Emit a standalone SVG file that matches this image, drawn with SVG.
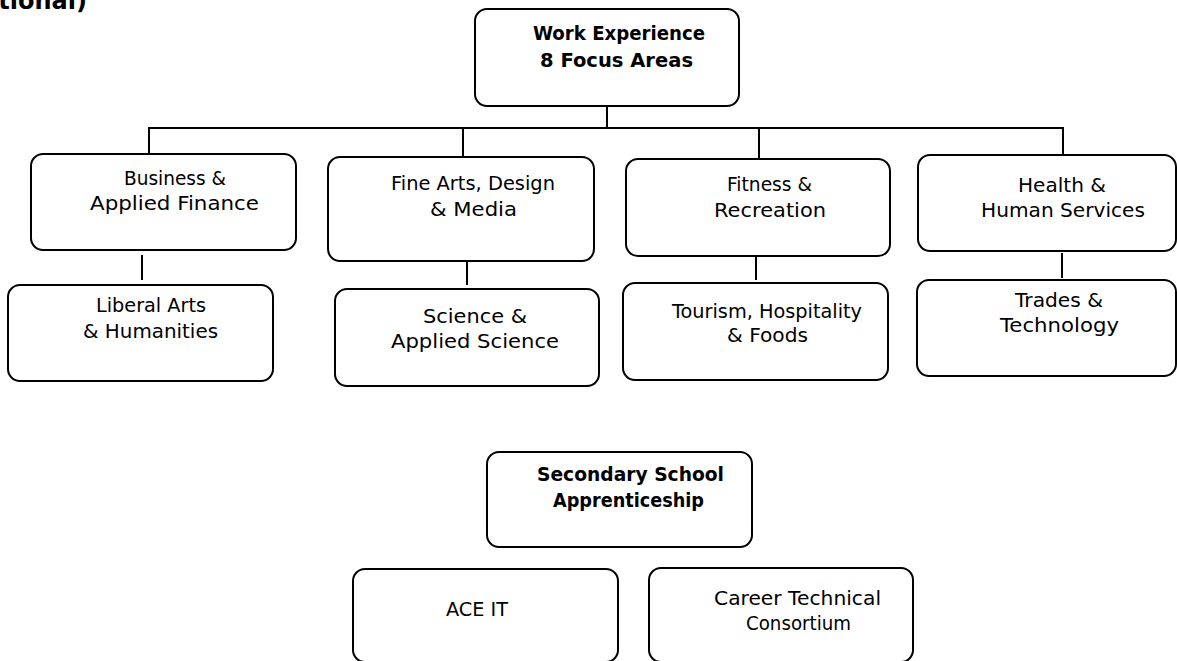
<svg xmlns="http://www.w3.org/2000/svg" width="1177" height="661" viewBox="0 0 1177 661">
<style>
.box{fill:#fff;stroke:#000;stroke-width:2}
.ln{stroke:#000;stroke-width:2;fill:none}
.t{font-family:"DejaVu Sans","Liberation Sans",sans-serif;font-size:20px;fill:#000}
.b{font-family:"DejaVu Sans","Liberation Sans",sans-serif;font-size:19px;font-weight:bold;fill:#000}
</style>
<rect width="1177" height="661" fill="#fff"/>
<text class="b" x="87" y="9" text-anchor="end" style="font-size:24px">tional)</text>
<g id="connectors">
<line class="ln" x1="607" y1="106" x2="607" y2="128"/>
<line class="ln" x1="149" y1="128" x2="1064" y2="128"/>
<line class="ln" x1="149" y1="127" x2="149" y2="154"/>
<line class="ln" x1="463" y1="127" x2="463" y2="157"/>
<line class="ln" x1="759" y1="127" x2="759" y2="159"/>
<line class="ln" x1="1063" y1="127" x2="1063" y2="155"/>
<line class="ln" x1="142" y1="255" x2="142" y2="280"/>
<line class="ln" x1="467" y1="262" x2="467" y2="285"/>
<line class="ln" x1="756" y1="257" x2="756" y2="280"/>
<line class="ln" x1="1062" y1="253" x2="1062" y2="278"/>
</g>
<g id="work-experience">
<rect class="box" x="475" y="9" width="264" height="97" rx="12"/>
<text class="b" x="533" y="40" textLength="172" lengthAdjust="spacingAndGlyphs">Work Experience</text>
<text class="b" x="540" y="67" textLength="153" lengthAdjust="spacingAndGlyphs">8 Focus Areas</text>
</g>
<g id="business">
<rect class="box" x="31" y="154" width="265" height="96" rx="12"/>
<text class="t" x="124" y="185" textLength="102" lengthAdjust="spacingAndGlyphs">Business &amp;</text>
<text class="t" x="90" y="210" textLength="169" lengthAdjust="spacingAndGlyphs">Applied Finance</text>
</g>
<g id="liberal-arts">
<rect class="box" x="8" y="285" width="265" height="96" rx="12"/>
<text class="t" x="96" y="312" textLength="110" lengthAdjust="spacingAndGlyphs">Liberal Arts</text>
<text class="t" x="83" y="338" textLength="135" lengthAdjust="spacingAndGlyphs">&amp; Humanities</text>
</g>
<g id="fine-arts">
<rect class="box" x="328" y="157" width="266" height="104" rx="12"/>
<text class="t" x="391" y="190" textLength="164" lengthAdjust="spacingAndGlyphs">Fine Arts, Design</text>
<text class="t" x="430" y="216" textLength="87" lengthAdjust="spacingAndGlyphs">&amp; Media</text>
</g>
<g id="science">
<rect class="box" x="335" y="289" width="264" height="97" rx="12"/>
<text class="t" x="423" y="323" textLength="104" lengthAdjust="spacingAndGlyphs">Science &amp;</text>
<text class="t" x="391" y="348" textLength="168" lengthAdjust="spacingAndGlyphs">Applied Science</text>
</g>
<g id="fitness">
<rect class="box" x="626" y="159" width="264" height="97" rx="12"/>
<text class="t" x="727" y="191" textLength="85" lengthAdjust="spacingAndGlyphs">Fitness &amp;</text>
<text class="t" x="714" y="217" textLength="112" lengthAdjust="spacingAndGlyphs">Recreation</text>
</g>
<g id="tourism">
<rect class="box" x="623" y="283" width="265" height="97" rx="12"/>
<text class="t" x="672" y="318" textLength="190" lengthAdjust="spacingAndGlyphs">Tourism, Hospitality</text>
<text class="t" x="727" y="342" textLength="81" lengthAdjust="spacingAndGlyphs">&amp; Foods</text>
</g>
<g id="health">
<rect class="box" x="918" y="155" width="258" height="96" rx="12"/>
<text class="t" x="1018" y="192" textLength="88" lengthAdjust="spacingAndGlyphs">Health &amp;</text>
<text class="t" x="981" y="217" textLength="164" lengthAdjust="spacingAndGlyphs">Human Services</text>
</g>
<g id="trades">
<rect class="box" x="917" y="280" width="259" height="96" rx="12"/>
<text class="t" x="1015" y="307" textLength="88" lengthAdjust="spacingAndGlyphs">Trades &amp;</text>
<text class="t" x="1000" y="332" textLength="119" lengthAdjust="spacingAndGlyphs">Technology</text>
</g>
<g id="secondary-school">
<rect class="box" x="487" y="452" width="265" height="95" rx="12"/>
<text class="b" x="537" y="481" textLength="187" lengthAdjust="spacingAndGlyphs">Secondary School</text>
<text class="b" x="553" y="507" textLength="151" lengthAdjust="spacingAndGlyphs">Apprenticeship</text>
</g>
<g id="ace-it">
<rect class="box" x="353" y="569" width="265" height="93" rx="12"/>
<text class="t" x="446" y="616" textLength="62" lengthAdjust="spacingAndGlyphs">ACE IT</text>
</g>
<g id="career-technical">
<rect class="box" x="649" y="568" width="264" height="94" rx="12"/>
<text class="t" x="714" y="605" textLength="167" lengthAdjust="spacingAndGlyphs">Career Technical</text>
<text class="t" x="746" y="630" textLength="105" lengthAdjust="spacingAndGlyphs">Consortium</text>
</g>
</svg>
